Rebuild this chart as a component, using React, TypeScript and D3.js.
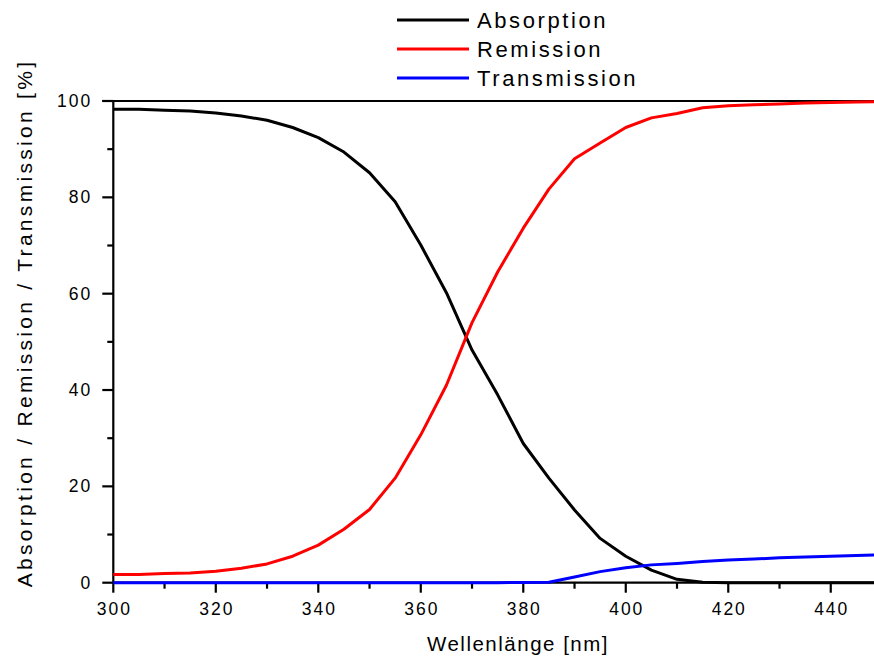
import React from "react";
import * as d3 from "d3";

const wavelengths = [300,305,310,315,320,325,330,335,340,345,350,355,360,365,370,375,380,385,390,395,400,405,410,415,420,425,430,435,440,445,450];
const absorption = [98.3,98.3,98.1,97.9,97.5,96.9,96.0,94.5,92.4,89.4,85.1,79.1,70.1,60.2,48.3,39.0,28.9,21.7,15.1,9.2,5.5,2.6,0.7,0.1,0,0,0,0,0,0,0];
const remission = [1.7,1.7,1.9,2.0,2.4,3.0,3.9,5.5,7.8,11.1,15.2,21.7,30.7,41.0,54.0,64.5,73.6,81.7,88.0,91.3,94.5,96.5,97.4,98.6,99.0,99.2,99.4,99.6,99.7,99.8,99.9];
const transmission = [0,0,0,0,0,0,0,0,0,0,0,0,0,0,0,0,0.05,0.1,1.2,2.3,3.1,3.7,4.0,4.4,4.7,4.9,5.2,5.35,5.5,5.65,5.8];

const seriesNames = ["Absorption", "Remission", "Transmission"];
const seriesColors = ["#000000", "#ff0000", "#0000ff"];
const xMajorTicks = [300,320,340,360,380,400,420,440];
const xMinorTicks = [310,330,350,370,390,410,430,450];
const yMajorTicks = [0,20,40,60,80,100];
const yMinorTicks = [10,30,50,70,90];

const W = 874, H = 659;
const FONT = "'Liberation Sans', Arial, sans-serif";

export default function App() {
  const x = d3.scaleLinear().domain([300, 450]).range([113.3, 882]);
  const y = d3.scaleLinear().domain([0, 100]).range([582.7, 101]);
  const allSeries = [absorption, remission, transmission];
  const line = d3.line<[number, number]>().x(d => x(d[0])).y(d => y(d[1])).curve(d3.curveLinear);
  const x0 = x(300);
  const y0 = y(0);
  return (
    <svg width={W} height={H} style={{ position: "absolute", left: 0, top: 0, background: "#fff" }} fontFamily={FONT}>
      <line x1={x0 - 11} x2={W + 10} y1={y(100)} y2={y(100)} stroke="#000" strokeWidth={2.2} />
      <line x1={x0} x2={x0} y1={y(100)} y2={y0 + 1} stroke="#000" strokeWidth={2.2} />
      {yMajorTicks.map(t => (
        <g key={"ym" + t}>
          <line x1={x0 - 11} x2={x0} y1={y(t)} y2={y(t)} stroke="#000" strokeWidth={2.2} />
          <text x={x0 - 21} y={y(t)} dy="0.35em" textAnchor="end" fontSize={17.5} letterSpacing={2} fill="#000">{t}</text>
        </g>
      ))}
      {yMinorTicks.map(t => (
        <line key={"yn" + t} x1={x0 - 6} x2={x0} y1={y(t)} y2={y(t)} stroke="#000" strokeWidth={2.2} />
      ))}
      <line x1={x0 - 1} x2={W + 10} y1={y0} y2={y0} stroke="#000" strokeWidth={2.2} />
      {xMajorTicks.map(t => (
        <g key={"xm" + t}>
          <line x1={x(t)} x2={x(t)} y1={y0} y2={y0 + 10} stroke="#000" strokeWidth={2.2} />
          <text x={x(t) + 1} y={615} textAnchor="middle" fontSize={17.5} letterSpacing={2} fill="#000">{t}</text>
        </g>
      ))}
      {xMinorTicks.map(t => (
        <line key={"xn" + t} x1={x(t)} x2={x(t)} y1={y0} y2={y0 + 6} stroke="#000" strokeWidth={2.2} />
      ))}
      {allSeries.map((s, i) => (
        <path key={seriesNames[i]} d={line(wavelengths.map((w, j) => [w, s[j]]))!} fill="none" stroke={seriesColors[i]} strokeWidth={3} strokeLinejoin="round" />
      ))}
      <text x={518} y={651} textAnchor="middle" fontSize={20.5} letterSpacing={1.5} fill="#000">Wellenlänge [nm]</text>
      <text transform={`translate(32, 323) rotate(-90)`} textAnchor="middle" fontSize={21} letterSpacing={3.3} fill="#000">Absorption / Remission / Transmission [%]</text>
      {seriesNames.map((n, i) => (
        <g key={"lg" + n} transform={`translate(0, ${20 + i * 29})`}>
          <line x1={397} x2={469} y1={0} y2={0} stroke={seriesColors[i]} strokeWidth={3} />
          <text x={477} y={0} dy="0.36em" fontSize={22} letterSpacing={2.6} fill="#000">{n}</text>
        </g>
      ))}
    </svg>
  );
}
